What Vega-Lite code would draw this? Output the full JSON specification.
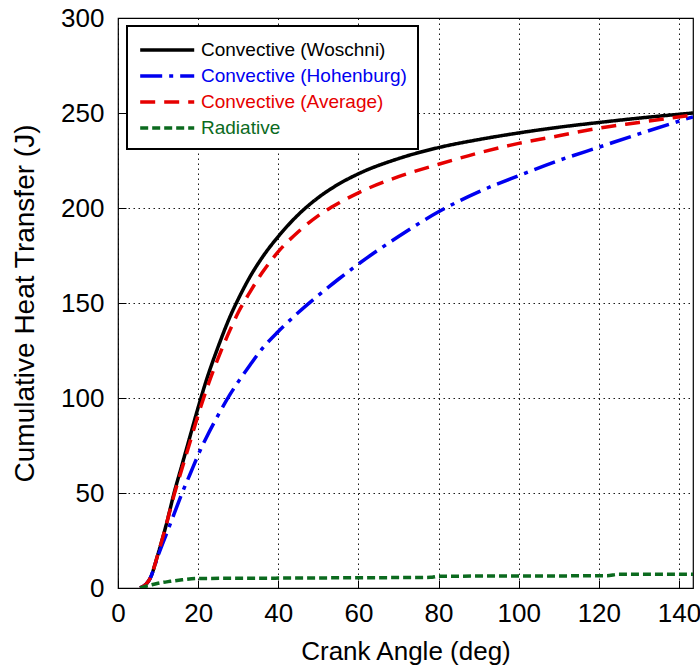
{
  "$schema": "https://vega.github.io/schema/vega-lite/v6.json",
  "width": 575,
  "height": 570,
  "autosize": {"type": "none"},
  "padding": {"left": 118, "top": 18, "right": 7, "bottom": 83},
  "background": "white",
  "config": {
    "font": "Liberation Sans",
    "view": {"stroke": "black", "strokeWidth": 1.2},
    "axis": {
      "labelFont": "Liberation Sans",
      "titleFont": "Liberation Sans",
      "labelFontSize": 26,
      "titleFontSize": 26,
      "titleFontWeight": "normal",
      "labelColor": "black",
      "titleColor": "black",
      "domain": false,
      "ticks": true,
      "tickSize": -8,
      "tickColor": "black",
      "tickWidth": 1,
      "grid": true,
      "gridColor": "black",
      "gridDash": [1.5, 3.5],
      "gridWidth": 1,
      "gridOpacity": 0.9
    },
    "legend": {"strokeWidth": 2}
  },
  "data": {
    "values": [
      {"ca": 5.5, "q": 0, "s": "Convective (Woschni)"},
      {"ca": 7, "q": 2, "s": "Convective (Woschni)"},
      {"ca": 8, "q": 5, "s": "Convective (Woschni)"},
      {"ca": 10, "q": 18, "s": "Convective (Woschni)"},
      {"ca": 12, "q": 33, "s": "Convective (Woschni)"},
      {"ca": 14, "q": 50, "s": "Convective (Woschni)"},
      {"ca": 16, "q": 65, "s": "Convective (Woschni)"},
      {"ca": 18, "q": 80, "s": "Convective (Woschni)"},
      {"ca": 20, "q": 95, "s": "Convective (Woschni)"},
      {"ca": 22, "q": 109, "s": "Convective (Woschni)"},
      {"ca": 25, "q": 127, "s": "Convective (Woschni)"},
      {"ca": 28, "q": 143, "s": "Convective (Woschni)"},
      {"ca": 30, "q": 152, "s": "Convective (Woschni)"},
      {"ca": 33, "q": 164, "s": "Convective (Woschni)"},
      {"ca": 36, "q": 174, "s": "Convective (Woschni)"},
      {"ca": 40, "q": 185, "s": "Convective (Woschni)"},
      {"ca": 45, "q": 196.5, "s": "Convective (Woschni)"},
      {"ca": 50, "q": 205.5, "s": "Convective (Woschni)"},
      {"ca": 55, "q": 212.5, "s": "Convective (Woschni)"},
      {"ca": 60, "q": 218, "s": "Convective (Woschni)"},
      {"ca": 70, "q": 226, "s": "Convective (Woschni)"},
      {"ca": 80, "q": 231.8, "s": "Convective (Woschni)"},
      {"ca": 90, "q": 236, "s": "Convective (Woschni)"},
      {"ca": 100, "q": 239.5, "s": "Convective (Woschni)"},
      {"ca": 110, "q": 242.5, "s": "Convective (Woschni)"},
      {"ca": 120, "q": 245, "s": "Convective (Woschni)"},
      {"ca": 130, "q": 247.3, "s": "Convective (Woschni)"},
      {"ca": 143.5, "q": 250, "s": "Convective (Woschni)"},

      {"ca": 5.5, "q": 0, "s": "Convective (Hohenburg)"},
      {"ca": 7, "q": 2, "s": "Convective (Hohenburg)"},
      {"ca": 8, "q": 5, "s": "Convective (Hohenburg)"},
      {"ca": 10, "q": 17, "s": "Convective (Hohenburg)"},
      {"ca": 12, "q": 28, "s": "Convective (Hohenburg)"},
      {"ca": 14, "q": 39, "s": "Convective (Hohenburg)"},
      {"ca": 16, "q": 50, "s": "Convective (Hohenburg)"},
      {"ca": 18, "q": 60, "s": "Convective (Hohenburg)"},
      {"ca": 20, "q": 70, "s": "Convective (Hohenburg)"},
      {"ca": 22, "q": 79, "s": "Convective (Hohenburg)"},
      {"ca": 25, "q": 91, "s": "Convective (Hohenburg)"},
      {"ca": 28, "q": 102, "s": "Convective (Hohenburg)"},
      {"ca": 30, "q": 108.5, "s": "Convective (Hohenburg)"},
      {"ca": 33, "q": 117.5, "s": "Convective (Hohenburg)"},
      {"ca": 36, "q": 126, "s": "Convective (Hohenburg)"},
      {"ca": 40, "q": 135, "s": "Convective (Hohenburg)"},
      {"ca": 45, "q": 145, "s": "Convective (Hohenburg)"},
      {"ca": 50, "q": 154, "s": "Convective (Hohenburg)"},
      {"ca": 55, "q": 162.5, "s": "Convective (Hohenburg)"},
      {"ca": 60, "q": 170.5, "s": "Convective (Hohenburg)"},
      {"ca": 70, "q": 185, "s": "Convective (Hohenburg)"},
      {"ca": 80, "q": 198, "s": "Convective (Hohenburg)"},
      {"ca": 90, "q": 208.5, "s": "Convective (Hohenburg)"},
      {"ca": 100, "q": 217, "s": "Convective (Hohenburg)"},
      {"ca": 110, "q": 225, "s": "Convective (Hohenburg)"},
      {"ca": 120, "q": 232, "s": "Convective (Hohenburg)"},
      {"ca": 130, "q": 239, "s": "Convective (Hohenburg)"},
      {"ca": 143.5, "q": 248, "s": "Convective (Hohenburg)"},

      {"ca": 5.5, "q": 0, "s": "Convective (Average)"},
      {"ca": 7, "q": 2, "s": "Convective (Average)"},
      {"ca": 8, "q": 5, "s": "Convective (Average)"},
      {"ca": 10, "q": 18, "s": "Convective (Average)"},
      {"ca": 12, "q": 33, "s": "Convective (Average)"},
      {"ca": 14, "q": 49, "s": "Convective (Average)"},
      {"ca": 16, "q": 63, "s": "Convective (Average)"},
      {"ca": 18, "q": 77, "s": "Convective (Average)"},
      {"ca": 20, "q": 91, "s": "Convective (Average)"},
      {"ca": 22, "q": 104, "s": "Convective (Average)"},
      {"ca": 25, "q": 121, "s": "Convective (Average)"},
      {"ca": 28, "q": 136, "s": "Convective (Average)"},
      {"ca": 30, "q": 145, "s": "Convective (Average)"},
      {"ca": 33, "q": 156, "s": "Convective (Average)"},
      {"ca": 36, "q": 166, "s": "Convective (Average)"},
      {"ca": 40, "q": 177, "s": "Convective (Average)"},
      {"ca": 45, "q": 187.5, "s": "Convective (Average)"},
      {"ca": 50, "q": 196, "s": "Convective (Average)"},
      {"ca": 55, "q": 202.5, "s": "Convective (Average)"},
      {"ca": 60, "q": 208, "s": "Convective (Average)"},
      {"ca": 70, "q": 216.5, "s": "Convective (Average)"},
      {"ca": 80, "q": 223, "s": "Convective (Average)"},
      {"ca": 90, "q": 229, "s": "Convective (Average)"},
      {"ca": 100, "q": 234, "s": "Convective (Average)"},
      {"ca": 110, "q": 238, "s": "Convective (Average)"},
      {"ca": 120, "q": 242, "s": "Convective (Average)"},
      {"ca": 130, "q": 245, "s": "Convective (Average)"},
      {"ca": 143.5, "q": 249, "s": "Convective (Average)"},

      {"ca": 5.5, "q": 0, "s": "Radiative"},
      {"ca": 8, "q": 1.5, "s": "Radiative"},
      {"ca": 10, "q": 2.5, "s": "Radiative"},
      {"ca": 13, "q": 3.5, "s": "Radiative"},
      {"ca": 16, "q": 4.3, "s": "Radiative"},
      {"ca": 20, "q": 5, "s": "Radiative"},
      {"ca": 40, "q": 5.2, "s": "Radiative"},
      {"ca": 60, "q": 5.4, "s": "Radiative"},
      {"ca": 78, "q": 5.6, "s": "Radiative"},
      {"ca": 80, "q": 6.2, "s": "Radiative"},
      {"ca": 100, "q": 6.3, "s": "Radiative"},
      {"ca": 122, "q": 6.5, "s": "Radiative"},
      {"ca": 125, "q": 7.2, "s": "Radiative"},
      {"ca": 143.5, "q": 7.2, "s": "Radiative"}
    ]
  },
  "mark": {"type": "line", "strokeWidth": 3.5, "clip": true, "interpolate": "monotone"},
  "encoding": {
    "x": {
      "field": "ca",
      "type": "quantitative",
      "scale": {"domain": [0, 143.5], "nice": false, "zero": false},
      "axis": {"values": [0, 20, 40, 60, 80, 100, 120, 140], "title": "Crank Angle (deg)", "labelPadding": 20, "titlePadding": 12, "labelFlush": false}
    },
    "y": {
      "field": "q",
      "type": "quantitative",
      "scale": {"domain": [0, 300], "nice": false},
      "axis": {"values": [0, 50, 100, 150, 200, 250, 300], "title": "Cumulative Heat Transfer (J)", "labelPadding": 22, "titlePadding": 21, "titleFontSize": 28, "labelFlush": false}
    },
    "color": {
      "field": "s",
      "type": "nominal",
      "scale": {
        "domain": ["Convective (Woschni)", "Convective (Hohenburg)", "Convective (Average)", "Radiative"],
        "range": ["#000000", "#0000f0", "#e60000", "#0b6a1e"]
      },
      "legend": {
        "orient": "none",
        "legendX": 9,
        "legendY": 8,
        "title": null,
        "fillColor": "white",
        "strokeColor": "black",
        "cornerRadius": 0,
        "padding": 11,
        "labelFontSize": 19,
        "labelFont": "Liberation Sans",
        "labelLimit": 400,
        "labelOffset": 37,
        "labelColor": {"expr": "datum.value === 'Convective (Hohenburg)' ? '#0000f0' : datum.value === 'Convective (Average)' ? '#e60000' : datum.value === 'Radiative' ? '#0b6a1e' : '#000000'"},
        "symbolType": "M-1,0H4",
        "symbolSize": 467,
        "symbolStrokeWidth": 3.5,
        "rowPadding": 3
      }
    },
    "strokeDash": {
      "field": "s",
      "type": "nominal",
      "scale": {
        "domain": ["Convective (Woschni)", "Convective (Hohenburg)", "Convective (Average)", "Radiative"],
        "range": [[1, 0], [22, 7, 4, 7], [15, 9], [8, 4]]
      },
      "legend": null
    }
  }
}
